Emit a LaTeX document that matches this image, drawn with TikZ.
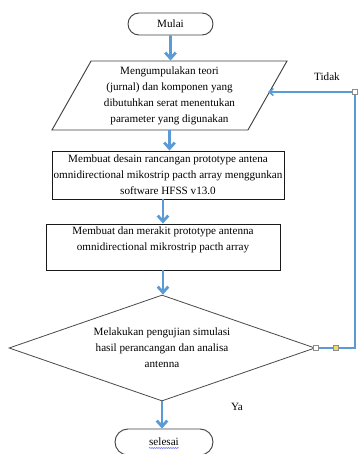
\documentclass[tikz,border=0pt]{standalone}
\usepackage{fontspec}
\setmainfont{Liberation Serif}
\usetikzlibrary{shapes.geometric,shapes.misc,arrows.meta,decorations.pathmorphing}
\definecolor{flowblue}{HTML}{5B9BD5}
\definecolor{handleyellow}{HTML}{F2D96B}

\begin{document}
\begin{tikzpicture}[x=0.03cm, y=-0.03cm,
  every node/.style={font=\fontsize{9.5}{13.6}\selectfont},
  terminal/.style={draw=black!75, line width=0.8pt, rounded rectangle, inner sep=0pt},
  io/.style={draw=black!75, line width=0.8pt, trapezium, trapezium left angle=56,
    trapezium right angle=124, trapezium stretches body, minimum width=7.05cm,
    minimum height=2.07cm, inner sep=0pt, align=center},
  process/.style={draw=black!90, line width=0.8pt, rectangle, inner sep=0pt, align=center},
  decision/.style={draw=black!70, line width=0.7pt, diamond, shape aspect=2.9,
    minimum width=9.18cm, minimum height=3.18cm, inner sep=0pt, align=center},
  flow/.style={flowblue, line width=2.4pt, -{Straight Barb[length=5pt,width=9pt]}},
  loopline/.style={flowblue, line width=1.4pt, -{Straight Barb[length=3.5pt,width=6pt]}},
  handle/.style={draw=black!45, fill=white, line width=0.4pt, inner sep=0pt, minimum size=0.15cm},
  spell/.style={blue!80, line width=0.4pt, decorate, decoration={snake, amplitude=0.35pt, segment length=2pt}}
]
\useasboundingbox (0,0) rectangle (357,454);

\def\ystart{24}
\def\ycollect{95.5}
\def\ydesign{175}
\def\ybuild{247}
\def\ydecide{348}
\def\yfinish{442}
\def\xright{355}

\node[terminal, minimum width=2.55cm, minimum height=0.66cm] (start) at (170.5, \ystart) {Mulai};
\node[io] (collect) at (169.5, \ycollect) {Mengumpulakan teori\\(jurnal) dan komponen yang\\dibutuhkan serat menentukan\\parameter yang digunakan};
\node[process, minimum width=6.96cm, minimum height=1.44cm] (design) at (168, \ydesign) {Membuat desain rancangan prototype antena\\omnidirectional mikostrip pacth array menggunkan\\software HFSS v13.0};
\node[process, minimum width=7.02cm, minimum height=1.38cm] (build) at (163, \ybuild) {Membuat dan merakit prototype antenna\\omnidirectional mikrostrip pacth array\\~};
\node[decision] (decide) at (162, \ydecide) {Melakukan pengujian simulasi\\hasil perancangan dan analisa\\antenna};
\node[terminal, minimum width=2.94cm, minimum height=0.78cm] (finish) at (164, \yfinish) {selesai};

\node (no) at (327, 77) {Tidak};
\node (yes) at (237, 407) {Ya};

\draw[flow] (start) -- (start |- collect.north);
\draw[flow] (collect.south) -- (collect.south |- design.north);
\draw[flow] (design.south -| build) -- (build.north);
\draw[flow] (build.south) -- (build.south |- decide.north);
\draw[flow] (decide.south) -- (decide.south |- finish.north);

\coordinate (back) at (\xright, 92);
\coordinate (entry) at (268, 92);
\draw[loopline] (decide.east) -| (back) -- (entry);

\node[handle] (h1) at (decide.east) {};
\node[handle, fill=handleyellow] (h2) at (336, \ydecide) {};
\node[handle] (h3) at (back) {};

\draw[spell] ([shift={(-15,6)}]finish.center) -- ([shift={(15,6)}]finish.center);

\end{tikzpicture}
\end{document}
